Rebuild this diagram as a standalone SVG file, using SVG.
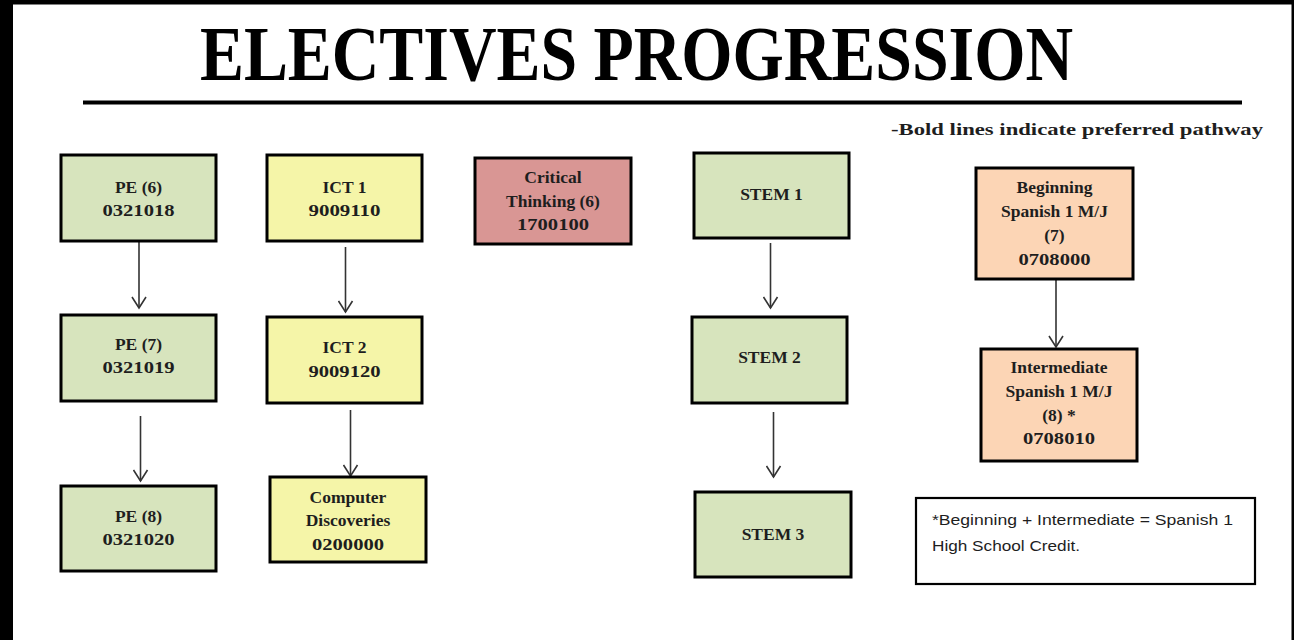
<svg xmlns="http://www.w3.org/2000/svg" width="1294" height="640" viewBox="0 0 1294 640">
<style>
.box{stroke:#000;stroke-width:3}
.g{fill:#d7e4bd}.y{fill:#f5f5a8}.r{fill:#d99694}.o{fill:#fcd5b5}
.t{font-family:"Liberation Serif",serif;font-weight:bold;font-size:17.5px;fill:#1e1e1e;text-anchor:middle}
.d{font-family:"Liberation Serif",serif;font-weight:bold;font-size:17px;fill:#1e1e1e;text-anchor:middle}
.c{stroke:#333;stroke-width:1.6;fill:none}
.n{font-family:"Liberation Sans",Arial,sans-serif;font-size:15px;fill:#1e1e1e}
</style>
<defs>
<marker id="ah" markerWidth="14" markerHeight="16" refX="12" refY="8" orient="auto" markerUnits="userSpaceOnUse" viewBox="0 0 14 16">
<path d="M1,1 L12,8 L1,15" fill="none" stroke="#333" stroke-width="1.6"/>
</marker>
</defs>
<rect x="0" y="0" width="1294" height="640" fill="#fff"/>
<rect x="0" y="0" width="13" height="640" fill="#000"/>
<rect x="0" y="0" width="1294" height="4.5" fill="#000"/>
<rect x="1291.5" y="0" width="2.5" height="640" fill="#000"/>
<text x="200" y="80" font-family="'Liberation Serif',serif" font-weight="bold" font-size="78" textLength="873" lengthAdjust="spacingAndGlyphs" fill="#000">ELECTIVES PROGRESSION</text>
<line x1="83" y1="102.5" x2="1242" y2="102.5" stroke="#000" stroke-width="4"/>
<text x="891" y="135" font-family="'Liberation Serif',serif" font-weight="bold" font-size="17.5" textLength="372" lengthAdjust="spacingAndGlyphs" fill="#1e1e1e">-Bold lines indicate preferred pathway</text>
<g id="connectors">
<line class="c" x1="139" y1="241" x2="139" y2="308" marker-end="url(#ah)"/>
<line class="c" x1="140.5" y1="416" x2="140.5" y2="481" marker-end="url(#ah)"/>
<line class="c" x1="345.5" y1="247" x2="345.5" y2="312" marker-end="url(#ah)"/>
<line class="c" x1="350.5" y1="410" x2="350.5" y2="476" marker-end="url(#ah)"/>
<line class="c" x1="770.5" y1="243" x2="770.5" y2="308" marker-end="url(#ah)"/>
<line class="c" x1="773.5" y1="412" x2="773.5" y2="477" marker-end="url(#ah)"/>
<line class="c" x1="1056" y1="280" x2="1056" y2="347" marker-end="url(#ah)"/>
</g>
<g id="pe6"><rect class="box g" x="61" y="155" width="155" height="86"/><text class="t" x="138.5" y="193">PE (6)</text><text class="d" x="138.5" y="215.5" textLength="72" lengthAdjust="spacingAndGlyphs">0321018</text></g>
<g id="pe7"><rect class="box g" x="61" y="315" width="155" height="86"/><text class="t" x="138.5" y="350">PE (7)</text><text class="d" x="138.5" y="373" textLength="72" lengthAdjust="spacingAndGlyphs">0321019</text></g>
<g id="pe8"><rect class="box g" x="61" y="486" width="155" height="85"/><text class="t" x="138.5" y="521.5">PE (8)</text><text class="d" x="138.5" y="545" textLength="72" lengthAdjust="spacingAndGlyphs">0321020</text></g>
<g id="ict1"><rect class="box y" x="267" y="155" width="155" height="86"/><text class="t" x="344.5" y="193">ICT 1</text><text class="d" x="344.5" y="215.5" textLength="72" lengthAdjust="spacingAndGlyphs">9009110</text></g>
<g id="ict2"><rect class="box y" x="267" y="317" width="155" height="86"/><text class="t" x="344.5" y="353">ICT 2</text><text class="d" x="344.5" y="376.5" textLength="72" lengthAdjust="spacingAndGlyphs">9009120</text></g>
<g id="cd"><rect class="box y" x="270" y="477" width="156" height="85"/><text class="t" x="348" y="502.5">Computer</text><text class="t" x="348" y="526">Discoveries</text><text class="d" x="348" y="549.5" textLength="72" lengthAdjust="spacingAndGlyphs">0200000</text></g>
<g id="ct"><rect class="box r" x="475" y="158" width="156" height="86"/><text class="t" x="553" y="183">Critical</text><text class="t" x="553" y="206.5">Thinking (6)</text><text class="d" x="553" y="230" textLength="72" lengthAdjust="spacingAndGlyphs">1700100</text></g>
<g id="stem1"><rect class="box g" x="694" y="153" width="155" height="85"/><text class="t" x="771.5" y="200">STEM 1</text></g>
<g id="stem2"><rect class="box g" x="692" y="317" width="155" height="86"/><text class="t" x="769.5" y="363">STEM 2</text></g>
<g id="stem3"><rect class="box g" x="695" y="492" width="156" height="85"/><text class="t" x="773" y="540">STEM 3</text></g>
<g id="span1"><rect class="box o" x="976" y="168" width="157" height="111"/><text class="t" x="1054.5" y="193">Beginning</text><text class="t" x="1054.5" y="217">Spanish 1 M/J</text><text class="t" x="1054.5" y="241">(7)</text><text class="d" x="1054.5" y="265" textLength="72" lengthAdjust="spacingAndGlyphs">0708000</text></g>
<g id="span2"><rect class="box o" x="981" y="349" width="156" height="112"/><text class="t" x="1059" y="373">Intermediate</text><text class="t" x="1059" y="397">Spanish 1 M/J</text><text class="t" x="1059" y="421">(8) *</text><text class="d" x="1059" y="444" textLength="72" lengthAdjust="spacingAndGlyphs">0708010</text></g>
<g id="note"><rect x="916" y="498" width="339" height="86" fill="#fff" stroke="#000" stroke-width="2.2"/><text class="n" x="932" y="525" textLength="301" lengthAdjust="spacingAndGlyphs">*Beginning + Intermediate = Spanish 1</text><text class="n" x="932" y="551" textLength="148" lengthAdjust="spacingAndGlyphs">High School Credit.</text></g>
</svg>
